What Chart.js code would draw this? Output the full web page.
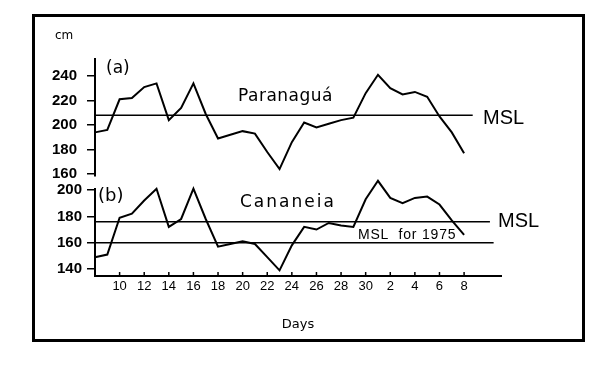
<!DOCTYPE html>
<html>
<head>
<meta charset="utf-8">
<script src="https://cdn.jsdelivr.net/npm/chart.js@4.4.1/dist/chart.umd.min.js"></script>
<style>
  body { margin: 0; background: #fff; }
  #wrap { position: relative; width: 592px; height: 365px; }
  #frame { position: absolute; left: 32px; top: 14px; width: 547px; height: 322px; border: 3px solid #000; }
  canvas { position: absolute; left: 0; top: 0; }
</style>
</head>
<body>
<div id="wrap">
  <div id="frame"></div>
  <canvas id="tideChart" width="592" height="365"></canvas>
</div>
<script>
// days 8..30 of the month, then 1..8 of the next (31..38)
const days = [8, 9, 10, 11, 12, 13, 14, 15, 16, 17, 18, 19, 20, 21, 22, 23,
              24, 25, 26, 27, 28, 29, 30, 31, 32, 33, 34, 35, 36, 37, 38];
const paranagua = [194, 196, 221, 222, 231, 234, 204, 214, 234, 209, 189, 192, 195, 193, 178, 164,
                   186, 202, 198, 201, 204, 206, 226, 241, 230, 225, 227, 223, 207, 194, 177];
const cananeia = [149, 151, 179, 182, 192, 201, 172, 178, 201, 178, 157, 159, 161, 159, 149, 139,
                  158, 172, 170, 175, 173, 172, 193, 207, 194, 190, 194, 195, 189, 177, 166];

const mslParanagua = 208;
const mslCananeia = 176;
const msl1975 = 160;
const mslDaysA = [8, 38.7];
const mslDaysB = [8, 40.1];
const mslDays1975 = [8, 40.4];

const xTickDays = [10, 12, 14, 16, 18, 20, 22, 24, 26, 28, 30, 32, 34, 36, 38];
const xTickLabels = ['10', '12', '14', '16', '18', '20', '22', '24', '26', '28', '30', '2', '4', '6', '8'];
const yTicksA = [160, 180, 200, 220, 240];
const yTicksB = [140, 160, 180, 200];

Chart.defaults.font.family = 'Liberation Sans';
Chart.defaults.color = '#000';

function series(vals, axis) {
    return {
        data: days.map((d, i) => ({ x: d, y: vals[i] })),
        yAxisID: axis,
        borderColor: '#000',
        borderWidth: 2,
        pointRadius: 0,
        tension: 0,
        clip: false
    };
}

function level(value, span, axis) {
    return {
        data: span.map(d => ({ x: d, y: value })),
        yAxisID: axis,
        borderColor: '#000',
        borderWidth: 1.5,
        pointRadius: 0,
        clip: false
    };
}

function put(ctx, text, x, y, font, spacing, align) {
    ctx.font = font;
    ctx.letterSpacing = (spacing || 0) + 'px';
    ctx.textAlign = align || 'left';
    ctx.textBaseline = 'middle';
    ctx.fillText(text, x, y);
}

const panelDecor = {
    id: 'panelDecor',
    afterDraw(chart) {
        const { ctx, chartArea } = chart;
        const x = chart.scales.x, yA = chart.scales.yA, yB = chart.scales.yB;
        ctx.save();
        ctx.strokeStyle = '#000';
        ctx.lineWidth = 2;
        ctx.beginPath();
        // the two y axis lines, with a gap between panels
        ctx.moveTo(chartArea.left, yA.top);
        ctx.lineTo(chartArea.left, yA.getPixelForValue(158));
        ctx.moveTo(chartArea.left, yB.getPixelForValue(201.5));
        ctx.lineTo(chartArea.left, chartArea.bottom);
        ctx.stroke();
        ctx.lineWidth = 1.5;
        ctx.beginPath();
        xTickDays.forEach(d => {
            const px = x.getPixelForValue(d);
            ctx.moveTo(px, chartArea.bottom);
            ctx.lineTo(px, chartArea.bottom - 4);
        });
        ctx.stroke();

        ctx.fillStyle = '#000';
        put(ctx, 'cm', 55, 36, '12px "DejaVu Sans"');
        put(ctx, '(a)', 106, 69, '17px "DejaVu Sans"');
        put(ctx, '(b)', 98, 196, '18px "DejaVu Sans"');
        put(ctx, 'Paranaguá', 238, 97, '17px "DejaVu Sans"', 0.5);
        put(ctx, 'Cananeia', 240, 203, '17px "DejaVu Sans"', 2);
        put(ctx, 'MSL', 483, yA.getPixelForValue(mslParanagua) + 3, '20px "Liberation Sans"');
        put(ctx, 'MSL', 498, yB.getPixelForValue(mslCananeia), '20px "Liberation Sans"');
        put(ctx, 'MSL  for 1975', 358, yB.getPixelForValue(msl1975) - 8, '14px "Liberation Sans"', 0.8);
        ctx.restore();
    }
};

const ctx = document.getElementById('tideChart').getContext('2d');
new Chart(ctx, {
    type: 'line',
    data: {
        datasets: [
            series(paranagua, 'yA'),
            level(mslParanagua, mslDaysA, 'yA'),
            series(cananeia, 'yB'),
            level(mslCananeia, mslDaysB, 'yB'),
            level(msl1975, mslDays1975, 'yB')
        ]
    },
    options: {
        responsive: false,
        animation: false,
        devicePixelRatio: 1,
        layout: { padding: { left: 45, right: 91, top: 58, bottom: 0 } },
        plugins: { legend: { display: false }, tooltip: { enabled: false } },
        scales: {
            x: {
                type: 'linear',
                min: 8,
                max: 41,
                afterBuildTicks: s => { s.ticks = xTickDays.map(v => ({ value: v })); },
                afterFit: s => { s.height = 89; },
                grid: { display: false, drawTicks: false },
                border: { display: true, color: '#000', width: 2 },
                ticks: {
                    padding: 3,
                    maxRotation: 0,
                    autoSkip: false,
                    font: { size: 13 },
                    callback: (v, i) => xTickLabels[i]
                },
                title: {
                    display: true,
                    text: 'Days',
                    font: { size: 13, family: 'DejaVu Sans' },
                    padding: { top: 0, bottom: 33 }
                }
            },
            // stacked axes: the one listed last is placed on top
            yB: {
                type: 'linear',
                position: 'left',
                stack: 'panels',
                stackWeight: 94,
                min: 134.7,
                max: 206.1,
                afterBuildTicks: s => { s.ticks = yTicksB.map(v => ({ value: v })); },
                afterFit: s => { s.width = 50; },
                grid: { display: true, drawOnChartArea: false, drawTicks: true, tickLength: 8, color: '#000', lineWidth: 1.5 },
                border: { display: false },
                ticks: { padding: 5, font: { size: 15, weight: 'bold' } }
            },
            yA: {
                type: 'linear',
                position: 'left',
                stack: 'panels',
                stackWeight: 124,
                min: 153.5,
                max: 254.7,
                afterBuildTicks: s => { s.ticks = yTicksA.map(v => ({ value: v })); },
                afterFit: s => { s.width = 50; },
                grid: { display: true, drawOnChartArea: false, drawTicks: true, tickLength: 8, color: '#000', lineWidth: 1.5 },
                border: { display: false },
                ticks: { padding: 10, font: { size: 15, weight: 'bold' } }
            }
        }
    },
    plugins: [panelDecor]
});
</script>
</body>
</html>
